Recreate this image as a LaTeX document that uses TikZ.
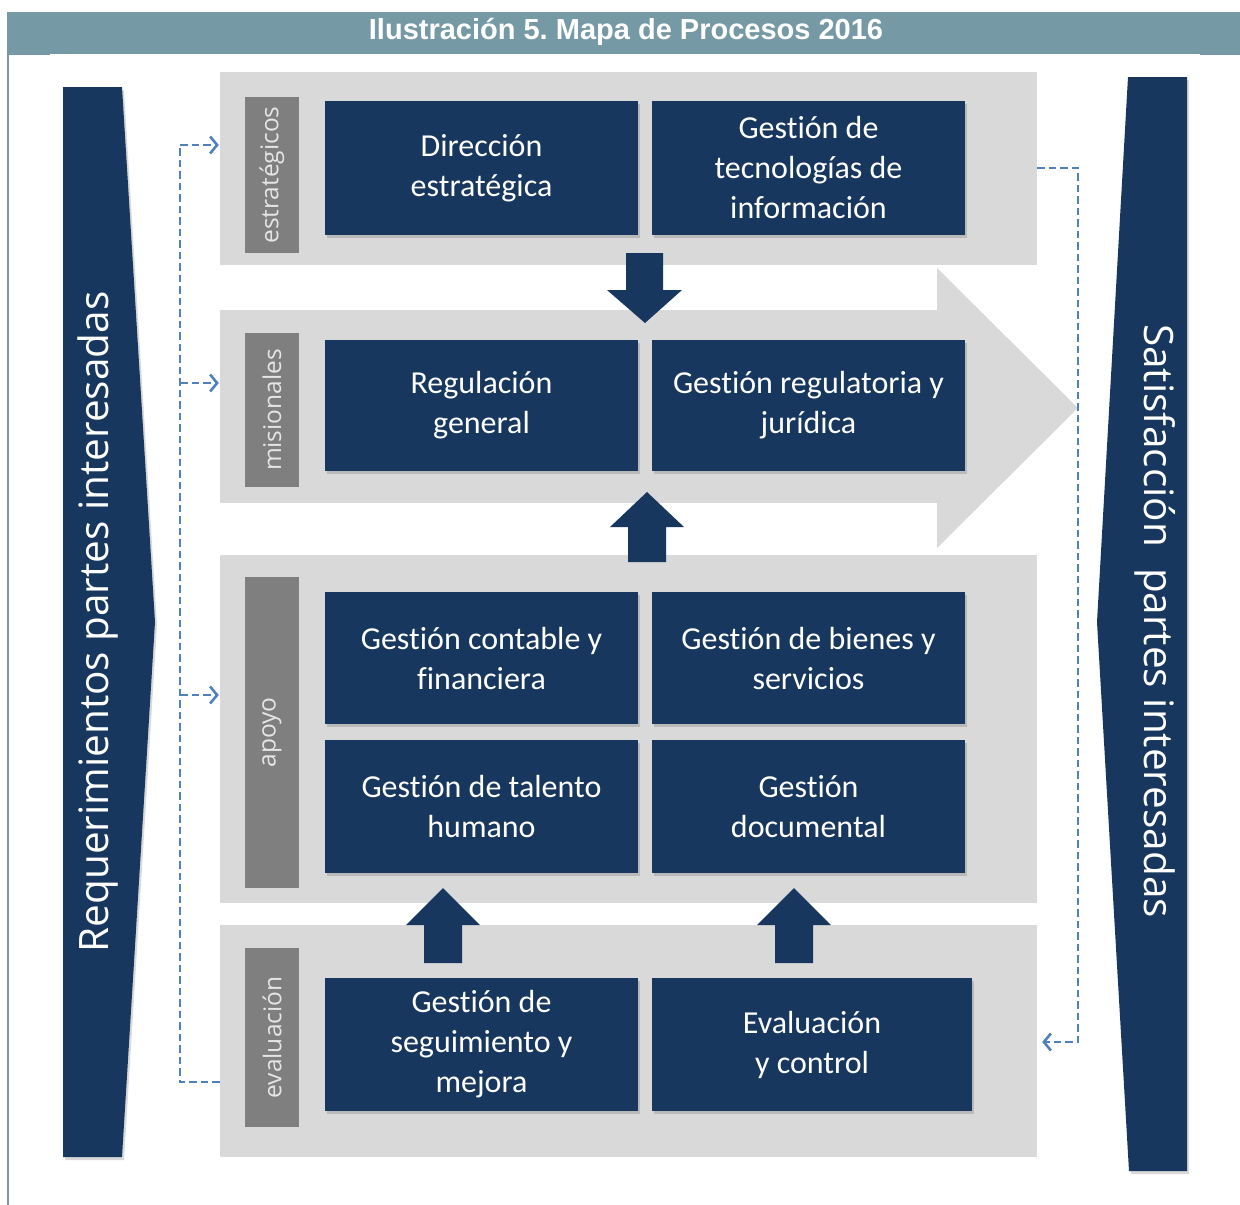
\documentclass[tikz,border=0pt]{standalone}
\usepackage{fontspec}
\setmainfont{Carlito}[Ligatures=NoCommon]
\newfontfamily\rotulo{Open Sans}
\newfontfamily\titular{Liberation Sans}
\usetikzlibrary{arrows.meta,shadows}
\frenchspacing

\definecolor{azulmapa}{RGB}{23,55,94}
\definecolor{grisclaro}{RGB}{217,217,217}
\definecolor{grisosc}{RGB}{127,127,127}
\definecolor{tealtit}{RGB}{118,154,165}
\definecolor{azulraya}{RGB}{79,129,189}

\tikzset{
    panel/.style={fill=grisclaro, inner sep=0pt},
    etiqueta/.style={fill=grisosc, rotate=90, inner sep=0pt, minimum height=54pt,
        text=white!90!black, font=\rotulo\fontsize{24.5}{28}\selectfont},
    proceso/.style={fill=azulmapa, text=white, align=center, inner sep=0pt,
        minimum width=313pt, font=\fontsize{32}{40}\selectfont,
        drop shadow={shadow xshift=2pt, shadow yshift=-3pt, opacity=.35}},
    lado/.style={text=white, inner sep=0pt, font=\rotulo\fontsize{40.5}{46}\selectfont},
    flecha/.style={fill=azulmapa},
    raya/.style={azulraya, line width=2.8pt, dash pattern=on 7.5pt off 4pt},
    punta/.style={-{Straight Barb[length=7pt,width=17pt,line width=2.6pt]}}
}

\begin{document}
\begin{tikzpicture}[x=1pt, y=-1pt]
    \useasboundingbox (0,0) rectangle (1240,1205);

    % Encabezado
    \fill[tealtit] (8,12) rectangle (1240,55);
    \draw[tealtit, line width=2pt] (8,12) -- (8,1205);
    \draw[white, line width=1.5pt] (50,54.5) -- (1200,54.5);
    \node[text=white, font=\titular\bfseries\fontsize{29}{32}\selectfont] (titulo) at (626,32) {Ilustración 5. Mapa de Procesos 2016};

    % Flechas laterales
    \fill[azulmapa, drop shadow={shadow xshift=2pt, shadow yshift=-3pt, opacity=.3}]
        (63,87) -- (122,87) -- (155,622) -- (122,1157) -- (63,1157) -- cycle;
    \node[lado, rotate=90] (req) at (98,622) {Requerimientos partes interesadas};

    \fill[azulmapa, drop shadow={shadow xshift=2pt, shadow yshift=-3pt, opacity=.3}]
        (1128,77) -- (1187,77) -- (1187,1171) -- (1129,1171) -- (1097,622) -- cycle;
    \node[lado, rotate=-90] (sat) at (1155,621) {Satisfacción\ \ partes interesadas};

    % Paneles
    \node[panel, minimum width=817pt, minimum height=193pt] (estPanel) at (628.5,168.5) {};
    \node[panel, minimum width=718pt, minimum height=193pt] (misPanel) at (579,406.5) {};
    \fill[grisclaro] (937,268) -- (1078,408) -- (937,548) -- cycle;
    \node[panel, minimum width=817pt, minimum height=348pt] (apoPanel) at (628.5,729) {};
    \node[panel, minimum width=817pt, minimum height=232pt] (evaPanel) at (628.5,1041) {};

    % Etiquetas de grupo
    \node[etiqueta, minimum width=156pt] (estLbl) at (272,175) {estratégicos};
    \node[etiqueta, minimum width=154pt] (misLbl) at (272,410) {misionales};
    \node[etiqueta, minimum width=311pt] (apoLbl) at (272,732.5) {apoyo};
    \node[etiqueta, minimum width=179pt] (evaLbl) at (272,1037.5) {evaluación};

    % Procesos
    \node[proceso, minimum height=134pt] (dirEst) at (481.5,168) {Dirección\\estratégica};
    \node[proceso, minimum height=134pt] (gesTec) at (808.5,168) {Gestión de\\tecnologías de\\información};
    \node[proceso, minimum height=131pt] (regGen) at (481.5,405.5) {Regulación\\general};
    \node[proceso, minimum height=131pt] (gesReg) at (808.5,405.5) {Gestión regulatoria y\\jurídica};
    \node[proceso, minimum height=132pt] (gesCon) at (481.5,658) {Gestión contable y\\financiera};
    \node[proceso, minimum height=132pt] (gesBie) at (808.5,658) {Gestión de bienes y\\servicios};
    \node[proceso, minimum height=133pt] (gesTal) at (481.5,806.5) {Gestión de talento\\humano};
    \node[proceso, minimum height=133pt] (gesDoc) at (808.5,806.5) {Gestión\\documental};
    \node[proceso, minimum height=133pt] (gesSeg) at (481.5,1044.5) {Gestión de\\seguimiento y\\mejora};
    \node[proceso, minimum height=133pt, minimum width=320pt] (evaCon) at (812,1044.5) {Evaluación\\y control};

    % Flechas de bloque
    \fill[flecha] (626,253) -- (663,253) -- (663,290) -- (682,290) -- (645,323) -- (607,290) -- (626,290) -- cycle;
    \fill[flecha] (628,562) -- (666,562) -- (666,527) -- (684,527) -- (647,492) -- (610,527) -- (628,527) -- cycle;
    \foreach \x in {443,794}
        \fill[flecha] (\x-19,963) -- (\x+19,963) -- (\x+19,925) -- (\x+37,925) -- (\x,888) -- (\x-37,925) -- (\x-19,925) -- cycle;

    % Retroalimentacion izquierda
    \coordinate (izqSup) at (180,145);
    \coordinate (izqMis) at (180,383);
    \coordinate (izqApo) at (180,695);
    \coordinate (izqInf) at (180,1082);
    \draw[raya] (izqInf -| evaPanel.west) -- (izqInf) -- (izqSup);
    \draw[raya, punta] (izqSup) -- ([xshift=-1pt]izqSup -| estPanel.west);
    \draw[raya, punta] (izqMis) -- ([xshift=-1pt]izqMis -| misPanel.west);
    \draw[raya, punta] (izqApo) -- ([xshift=-1pt]izqApo -| apoPanel.west);

    % Retroalimentacion derecha
    \coordinate (derSup) at (1078,168);
    \coordinate (derInf) at (1078,1042);
    \draw[raya, punta] (derSup -| estPanel.east) -- (derSup) -- (derInf) -- ([xshift=5pt]derInf -| evaPanel.east);
\end{tikzpicture}
\end{document}
